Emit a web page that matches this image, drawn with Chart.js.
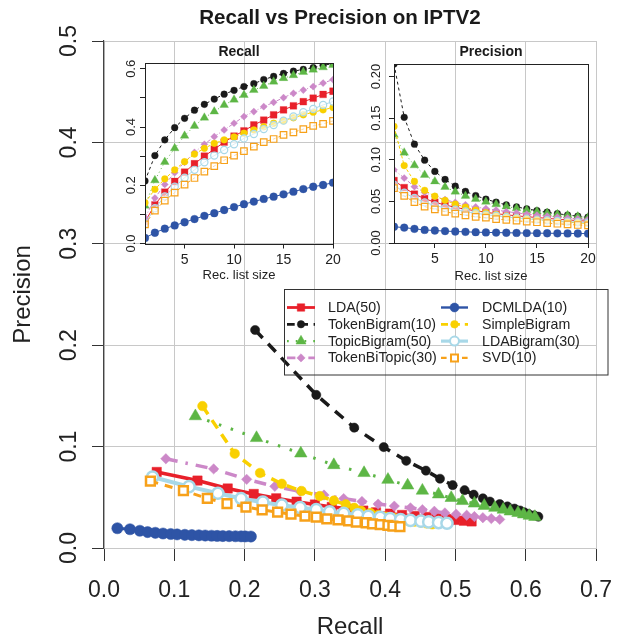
<!DOCTYPE html>
<html><head><meta charset="utf-8">
<script src="https://cdn.jsdelivr.net/npm/chart.js@4.4.1/dist/chart.umd.min.js"></script>
<style>
html,body{margin:0;padding:0;background:#fff;}
#wrap{position:relative;width:628px;height:644px;overflow:hidden;background:#fff;}
#wrap canvas{position:absolute;}
</style></head><body>
<div id="wrap">
<canvas id="main" width="628" height="644" style="left:0;top:0;width:628px;height:644px"></canvas>
<canvas id="rec" width="245" height="250" style="left:100px;top:40px;width:245px;height:250px"></canvas>
<canvas id="prec" width="260" height="250" style="left:350px;top:40px;width:260px;height:250px"></canvas>
</div>
<script>
// ---------------- data ----------------
const listSizes = [1,2,3,4,5,6,7,8,9,10,11,12,13,14,15,16,17,18,19,20];
const seriesNames = ['LDA(50)','TokenBigram(10)','TopicBigram(50)','TokenBiTopic(30)','DCMLDA(10)','SimpleBigram','LDABigram(30)','SVD(10)'];

const recallLDA          = [0.075,0.133,0.176,0.213,0.245,0.274,0.300,0.324,0.348,0.369,0.387,0.407,0.424,0.442,0.459,0.473,0.487,0.499,0.512,0.523];
const recallTokenBigram  = [0.215,0.302,0.356,0.398,0.430,0.458,0.478,0.496,0.513,0.526,0.539,0.549,0.563,0.574,0.584,0.592,0.598,0.604,0.612,0.618];
const recallTopicBigram  = [0.130,0.217,0.280,0.327,0.370,0.404,0.432,0.453,0.476,0.494,0.510,0.527,0.541,0.556,0.568,0.578,0.589,0.597,0.605,0.613];
const recallTokenBiTopic = [0.088,0.156,0.203,0.243,0.279,0.313,0.341,0.367,0.390,0.413,0.436,0.453,0.470,0.485,0.501,0.516,0.527,0.539,0.551,0.563];
const recallDCMLDA       = [0.019,0.037,0.051,0.062,0.073,0.084,0.095,0.104,0.115,0.125,0.135,0.144,0.153,0.161,0.169,0.178,0.187,0.195,0.201,0.209];
const recallSimpleBigram = [0.140,0.186,0.222,0.253,0.281,0.307,0.327,0.344,0.356,0.366,0.379,0.390,0.401,0.413,0.422,0.432,0.442,0.451,0.459,0.467];
const recallLDABigram    = [0.069,0.121,0.162,0.195,0.226,0.253,0.279,0.302,0.321,0.341,0.361,0.376,0.393,0.407,0.422,0.436,0.451,0.462,0.476,0.488];
const recallSVD          = [0.066,0.113,0.147,0.175,0.202,0.225,0.247,0.266,0.286,0.302,0.317,0.333,0.348,0.359,0.373,0.382,0.393,0.404,0.411,0.421];

const precLDA          = [0.075,0.0665,0.0587,0.0533,0.049,0.0457,0.0429,0.0405,0.0387,0.0369,0.0352,0.0339,0.0326,0.0316,0.0306,0.0296,0.0286,0.0277,0.0269,0.0262];
const precTokenBigram  = [0.215,0.151,0.1187,0.0995,0.086,0.0763,0.0683,0.062,0.057,0.0526,0.049,0.0458,0.0433,0.041,0.0389,0.037,0.0352,0.0336,0.0322,0.0309];
const precTopicBigram  = [0.130,0.1085,0.0933,0.0818,0.074,0.0673,0.0617,0.0566,0.0529,0.0494,0.0464,0.0439,0.0416,0.0397,0.0379,0.0361,0.0346,0.0332,0.0318,0.0307];
const precTokenBiTopic = [0.088,0.078,0.0677,0.0608,0.0558,0.0522,0.0487,0.0459,0.0433,0.0413,0.0396,0.0378,0.0362,0.0346,0.0334,0.0323,0.031,0.0299,0.029,0.0282];
const precDCMLDA       = [0.0195,0.0185,0.017,0.0157,0.015,0.0143,0.0138,0.0134,0.013,0.0127,0.0125,0.0123,0.0121,0.0119,0.0118,0.0117,0.0116,0.0115,0.0114,0.0113];
const precSimpleBigram = [0.140,0.093,0.074,0.0633,0.0562,0.0512,0.0467,0.043,0.0396,0.0366,0.0345,0.0325,0.0308,0.0295,0.0281,0.027,0.026,0.0251,0.0242,0.0234];
const precLDABigram    = [0.070,0.0605,0.054,0.0488,0.0452,0.0422,0.0399,0.0378,0.0357,0.0341,0.0328,0.0313,0.0302,0.0291,0.0281,0.0273,0.0265,0.0257,0.0251,0.0244];
const precSVD          = [0.066,0.0565,0.049,0.0438,0.0404,0.0375,0.0353,0.0333,0.0314,0.0304,0.0287,0.0278,0.0268,0.0256,0.0249,0.0239,0.0231,0.0224,0.0216,0.0211];

const mainXTicks = [0,0.1,0.2,0.3,0.4,0.5,0.6,0.7];
const mainYTicks = [0,0.1,0.2,0.3,0.4,0.5];
const insetXTicks = [5,10,15,20];
const recallYTicks = [0,0.1,0.2,0.3,0.4,0.5,0.6];
const recallYTickLabels = ['0.0','','0.2','','0.4','','0.6'];
const precYTicks = [0,0.05,0.10,0.15,0.20];
const precYTickLabels = ['0.00','0.05','0.10','0.15','0.20'];
const mainTitle = 'Recall vs Precision on IPTV2';

const recallSeries = [recallLDA,recallTokenBigram,recallTopicBigram,recallTokenBiTopic,recallDCMLDA,recallSimpleBigram,recallLDABigram,recallSVD];
const precSeries = [precLDA,precTokenBigram,precTopicBigram,precTokenBiTopic,precDCMLDA,precSimpleBigram,precLDABigram,precSVD];

// ---------------- styles ----------------
const FONT = "'Liberation Sans', Arial, Helvetica, sans-serif";
const TXT = '#222';
const styles = [
  {color:'#E8202A', ps:'rect',     open:false, dash:[],          idash:[],        r:6.6, ir:4.8, lw:3.5},
  {color:'#1a1a1a', ps:'circle',   open:false, dash:[11,8],      idash:[3,3],     r:4.6, ir:3.4, lw:3.5},
  {color:'#5DB645', ps:'triangle', open:false, dash:[2.5,10],    idash:[1,3],     r:7.2, ir:5.0, lw:3},
  {color:'#CC88C8', ps:'rectRot',  open:false, dash:[12,8,2.5,8],idash:[4,2,1,2], r:5.2, ir:3.6, lw:3.5},
  {color:'#2E54A6', ps:'circle',   open:false, dash:[],          idash:[],        r:5.6, ir:3.9, lw:3},
  {color:'#F9D000', ps:'circle',   open:false, dash:[10,7],      idash:[3,2],     r:4.8, ir:3.4, lw:3.5},
  {color:'#A8D8E8', ps:'circle',   open:true,  dash:[],          idash:[],        r:5.6, ir:3.6, lw:4},
  {color:'#F7A11A', ps:'rect',     open:true,  dash:[8,7],       idash:[3,3],     r:6.2, ir:4.6, lw:3}
];

Chart.defaults.font.family = FONT;
Chart.defaults.color = TXT;

function ticksFrom(arr){ return function(scale){ scale.ticks = arr.map(v => ({value:v})); }; }

// ---------------- main chart ----------------
function drawMarker(ctx, st, x, y, radius, bw){
  ctx.setLineDash([]);
  ctx.fillStyle = st.open ? '#fff' : st.color;
  ctx.strokeStyle = st.color;
  ctx.lineWidth = bw;
  Chart.helpers.drawPoint(ctx, {pointStyle: st.ps, radius: radius, borderWidth: bw, rotation: 0}, x, y);
}

const mainDecor = {
  id: 'mainDecor',
  afterDraw(chart){
    const ctx = chart.ctx, a = chart.chartArea;
    ctx.save();
    ctx.fillStyle = '#1a1a1a';
    ctx.font = 'bold 20.6px ' + FONT;
    ctx.textAlign = 'center'; ctx.textBaseline = 'middle';
    ctx.fillText(mainTitle, (a.left + a.right) / 2 - 10, 18);
    // legend box
    ctx.strokeStyle = '#333'; ctx.lineWidth = 1; ctx.setLineDash([]);
    ctx.strokeRect(284.5, 289.5, 323.5, 85.5);
    ctx.font = '14.2px ' + FONT;
    ctx.textAlign = 'left'; ctx.textBaseline = 'middle';
    seriesNames.forEach((name, i) => {
      const st = styles[i];
      const col = i < 4 ? 0 : 1, row = i % 4;
      const x0 = col ? 441 : 287, x1 = col ? 468 : 315, tx = col ? 482 : 328;
      const y = 307.5 + row * 16.8;
      ctx.strokeStyle = st.color; ctx.lineWidth = st.lw * 0.8; ctx.setLineDash(st.dash.map(d => d * 0.7));
      ctx.lineCap = 'butt';
      ctx.beginPath(); ctx.moveTo(x0, y); ctx.lineTo(x1, y); ctx.stroke();
      drawMarker(ctx, st, (x0 + x1) / 2, y, st.r * 0.8, st.open ? 2 : 0.5);
      ctx.fillStyle = TXT;
      ctx.fillText(name, tx, y + 0.5);
    });
    ctx.restore();
  }
};

new Chart(document.getElementById('main'), {
  type: 'scatter',
  data: {
    datasets: seriesNames.map((name, i) => {
      const st = styles[i];
      return {
        label: name,
        data: recallSeries[i].map((r, k) => ({x: r, y: precSeries[i][k]})),
        showLine: true,
        order: 10 - i,
        borderColor: st.color,
        borderWidth: st.lw,
        borderDash: st.dash,
        backgroundColor: st.color,
        pointStyle: st.ps,
        pointRadius: st.r,
        pointBackgroundColor: st.open ? '#fff' : st.color,
        pointBorderColor: st.color,
        pointBorderWidth: st.open ? 2.5 : 0.5,
        tension: 0
      };
    })
  },
  options: {
    responsive: false, animation: false, devicePixelRatio: 1,
    layout: {padding: {left: 0, right: 19, top: 41, bottom: 0}},
    plugins: {legend: {display: false}, tooltip: {enabled: false}, title: {display: false}},
    scales: {
      x: {
        type: 'linear', min: 0, max: 0.7,
        afterFit: s => { s.height = 96; },
        afterBuildTicks: ticksFrom(mainXTicks),
        ticks: {callback: v => v.toFixed(1), font: {size: 23}, color: TXT, padding: 16, maxRotation: 0, autoSkip: false},
        grid: {color: '#c8c8c8', lineWidth: 1, tickLength: 13, tickColor: '#333', tickWidth: 1},
        border: {color: '#c8c8c8', width: 1},
        title: {display: true, text: 'Recall', font: {size: 24}, color: TXT, padding: {top: 0, bottom: 2}}
      },
      y: {
        type: 'linear', min: 0, max: 0.5,
        afterFit: s => { s.width = 104; },
        afterBuildTicks: ticksFrom(mainYTicks),
        ticks: {callback: v => v.toFixed(1), font: {size: 23}, color: TXT, padding: 6, minRotation: 90, maxRotation: 90, crossAlign: 'center', autoSkip: false},
        grid: {color: '#c8c8c8', lineWidth: 1, tickLength: 12, tickColor: '#333', tickWidth: 1},
        border: {color: '#444', width: 1.2},
        title: {display: true, text: 'Precision', font: {size: 24}, color: TXT, padding: {top: 9, bottom: 0}}
      }
    }
  },
  plugins: [mainDecor]
});

// ---------------- insets ----------------
function insetDecor(title){
  return {
    id: 'insetDecor',
    afterDraw(chart){
      const ctx = chart.ctx, a = chart.chartArea;
      ctx.save();
      ctx.setLineDash([]);
      ctx.strokeStyle = '#222'; ctx.lineWidth = 1;
      ctx.strokeRect(Math.round(a.left) + 0.5, Math.round(a.top) + 0.5, Math.round(a.right - a.left), Math.round(a.bottom - a.top));
      ctx.fillStyle = '#1a1a1a';
      ctx.font = 'bold 14px ' + FONT;
      ctx.textAlign = 'center'; ctx.textBaseline = 'middle';
      ctx.fillText(title, (a.left + a.right) / 2, 12);
      ctx.restore();
    }
  };
}

function makeInset(canvasId, values, yMax, yTicks, yLabels, title, pad, yWidth, xHeight, xTitlePad){
  return new Chart(document.getElementById(canvasId), {
    type: 'scatter',
    data: {
      datasets: seriesNames.map((name, i) => {
        const st = styles[i];
        return {
          label: name,
          data: listSizes.map((k, j) => ({x: k, y: values[i][j]})),
          showLine: true,
          order: 10 - i,
          borderColor: st.color,
          borderWidth: 1,
          borderDash: st.idash,
          backgroundColor: st.color,
          pointStyle: st.ps,
          pointRadius: st.ir,
          pointBackgroundColor: st.open ? 'rgba(255,255,255,0.6)' : st.color,
          pointBorderColor: st.color,
          pointBorderWidth: st.open ? 1.2 : 0.3,
          tension: 0
        };
      })
    },
    options: {
      responsive: false, animation: false, devicePixelRatio: 1,
      layout: {padding: pad},
      plugins: {legend: {display: false}, tooltip: {enabled: false}, title: {display: false}},
      scales: {
        x: {
          type: 'linear', min: 1, max: 20,
          afterFit: s => { s.height = xHeight; },
          afterBuildTicks: ticksFrom(insetXTicks),
          ticks: {font: {size: 14}, color: TXT, padding: 3, maxRotation: 0, autoSkip: false},
          grid: {drawOnChartArea: false, tickLength: 5, tickColor: '#222', lineWidth: 1},
          border: {display: false},
          title: {display: true, text: 'Rec. list size', font: {size: 13}, color: TXT, padding: {top: 0, bottom: xTitlePad}}
        },
        y: {
          type: 'linear', min: 0, max: yMax,
          afterFit: s => { s.width = yWidth; },
          afterBuildTicks: ticksFrom(yTicks),
          ticks: {callback: (v, idx) => yLabels[idx], font: {size: 13}, color: TXT, padding: 0, minRotation: 90, maxRotation: 90, crossAlign: 'center', autoSkip: false},
          grid: {drawOnChartArea: false, tickLength: 5, tickColor: '#222', lineWidth: 1},
          border: {display: false}
        }
      }
    },
    plugins: [insetDecor(title)]
  });
}

makeInset('rec', recallSeries, 0.62, recallYTicks, recallYTickLabels, 'Recall',
  {left: 0, right: 12, top: 23, bottom: 0}, 45, 46.5, 6.5);
makeInset('prec', precSeries, 0.215, precYTicks, precYTickLabels, 'Precision',
  {left: 0, right: 22, top: 24, bottom: 0}, 44, 47, 5.5);
</script>
</body></html>
